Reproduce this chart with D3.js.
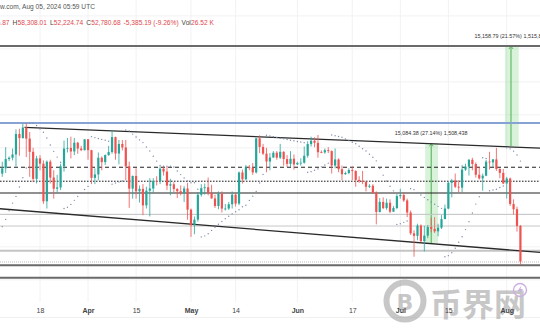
<!DOCTYPE html>
<html><head><meta charset="utf-8">
<script src="https://cdn.jsdelivr.net/npm/d3@7"></script>
<style>html,body{margin:0;padding:0;background:#fff;overflow:hidden}svg{display:block}</style>
</head><body>
<svg id="chart" width="540" height="336"></svg>
<script>
// BTC daily candles, 2024-02-26 .. 2024-08-05 (one entry per day)
const firstDay = "2024-02-26";
const opens = [
  51700, 54500, 57050, 62500,
  61200, 62400, 62000, 63100, 68300, 63800, 66100, 66900, 68300, 68500, 69000, 72100, 71480, 73080, 71400, 69400, 65300, 68400, 67600, 61900, 67900, 65500, 63800, 64000, 67200, 69900, 69990, 69450, 70780, 69900, 69650,
  71300, 69650, 65450, 65970, 68500, 67840, 68900, 69360, 71630, 69140, 70590, 70060, 67190, 63820, 65740, 63420, 63790, 61280, 63510, 63840, 64990, 64940, 66840, 66400, 64280, 64480, 63760, 63420, 63110, 63840,
  60630, 58250, 59120, 62890, 63890, 64030, 63160, 62330, 61190, 63050, 60790, 60800, 61450, 62900, 61550, 66270, 65230, 67050, 66940, 66280, 71450, 70140, 69120, 67930, 68530, 69260, 68510, 69390, 68300, 67570, 68350,
  67490, 67710, 67750, 68800, 70570, 71080, 70760, 69340, 69310, 69650, 69510, 67320, 68240, 66760, 66010, 66190, 66640, 66490, 65140, 64960, 64830, 64100, 64250, 63180, 60280, 61800, 60860, 61680, 60320, 60880,
  62680, 62850, 62030, 60200, 57040, 56660, 58230, 55860, 56700, 58000, 57720, 57350, 57900, 59200, 60800, 64700, 65050, 64100, 63970, 66700, 67150, 68190, 67550, 65920, 65370, 65780, 67910, 67800, 68250, 66800, 66200,
  64600, 65350, 61500, 60700, 58165.87
];
const highs = [
  54900, 57500, 63900, 63700,
  63100, 62400, 63200, 68500, 69000, 67600, 67900, 70100, 68700, 69900, 72800, 72900, 73650, 73750, 72400, 70000, 68800, 68900, 68100, 68100, 68200, 66600, 65900, 67600, 71100, 71500, 71700, 71500, 70900, 70300, 71300,
  71300, 69700, 66900, 69300, 68700, 69000, 70300, 72700, 71700, 71200, 71200, 71200, 67900, 65800, 66900, 64300, 64500, 64100, 65400, 65400, 65700, 67200, 67200, 67100, 65300, 64800, 63900, 64300, 64200, 64700,
  60800, 59600, 63300, 64500, 64600, 65500, 64400, 62900, 63400, 63400, 61500, 61800, 63400, 63100, 66400, 66700, 67400, 67400, 67700, 71500, 71900, 70600, 70000, 69200, 69500, 69500, 70600, 69500, 68900, 69500, 69000,
  67900, 68400, 70200, 71000, 71700, 71600, 71950, 69600, 69900, 70100, 69600, 69900, 68400, 67300, 66400, 66900, 67200, 66600, 65700, 66500, 65000, 64500, 64500, 63400, 62400, 62500, 62300, 62200, 61200, 63000,
  63800, 63300, 62300, 60500, 57500, 58500, 58400, 58200, 58300, 59400, 59500, 58500, 59800, 61400, 64900, 65300, 66100, 65100, 67400, 67600, 68300, 68500, 67800, 67100, 66100, 68200, 69400, 68300, 70000, 66900, 66800,
  65600, 65500, 62200, 61100, 58308.01
];
const lows = [
  50900, 54400, 56700, 60400,
  60800, 61600, 61300, 62300, 59000, 62800, 65600, 66200, 68000, 68100, 67200, 68800, 71400, 68600, 65600, 64800, 64600, 66600, 61500, 60800, 64600, 62300, 63200, 63600, 66400, 69300, 68400, 68900, 69100, 69500, 69600,
  68200, 64500, 64500, 65100, 66600, 67400, 68800, 69100, 68200, 67500, 69600, 65100, 60900, 62300, 62300, 61700, 59800, 60800, 59600, 63200, 64300, 64500, 65800, 63600, 62800, 63300, 62400, 62800, 61800, 59100,
  56500, 56900, 58800, 62600, 62900, 62800, 62300, 60900, 60700, 60200, 60500, 60600, 60800, 61100, 61300, 64600, 65100, 66600, 65900, 66100, 69200, 68900, 66300, 66600, 68500, 68200, 68300, 67300, 67100, 67100, 66700,
  67400, 67300, 67600, 68500, 70200, 70100, 68500, 69200, 69100, 69200, 66100, 66900, 66300, 65100, 65900, 66000, 65100, 64100, 64700, 64500, 63400, 63900, 63100, 58400, 60200, 60700, 60600, 60100, 60300, 60700,
  62300, 61800, 59500, 56800, 53500, 56000, 55700, 54300, 56300, 57200, 57100, 56600, 57700, 59200, 60700, 62500, 63900, 63300, 63300, 66500, 65800, 66600, 65500, 65200, 63500, 65700, 66700, 67100, 66500, 65400, 64500,
  62300, 61200, 59900, 57300, 52224.74
];
const closes = [
  54500, 57050, 62500, 61200,
  62400, 62000, 63100, 68300, 63800, 66100, 66900, 68300, 68500, 69000, 72100, 71480, 73080, 71400, 69400, 65300, 68400, 67600, 61900, 67900, 65500, 63800, 64000, 67200, 69900, 69990, 69450, 70780, 69900, 69650, 71300,
  69650, 65450, 65970, 68500, 67840, 68900, 69360, 71630, 69140, 70590, 70060, 67190, 63820, 65740, 63420, 63790, 61280, 63510, 63840, 64990, 64940, 66840, 66400, 64280, 64480, 63760, 63420, 63110, 63840, 60630,
  58250, 59120, 62890, 63890, 64030, 63160, 62330, 61190, 63050, 60790, 60800, 61450, 62900, 61550, 66270, 65230, 67050, 66940, 66280, 71450, 70140, 69120, 67930, 68530, 69260, 68510, 69390, 68300, 67570, 68350, 67490,
  67710, 67750, 68800, 70570, 71080, 70760, 69340, 69310, 69650, 69510, 67320, 68240, 66760, 66010, 66190, 66640, 66490, 65140, 64960, 64830, 64100, 64250, 63180, 60280, 61800, 60860, 61680, 60320, 60880, 62680,
  62850, 62030, 60200, 57040, 56660, 58230, 55860, 56700, 58000, 57720, 57350, 57900, 59200, 60800, 64700, 65050, 64100, 63970, 66700, 67150, 68190, 67550, 65920, 65370, 65780, 67910, 67800, 68250, 66800, 66200, 64600,
  65350, 61500, 60700, 58165.87, 52780.68
];
const lastVolume = "26.52 K";

// time axis
const tickDates = ["2024-03-18", "2024-04-01", "2024-04-15", "2024-05-01", "2024-05-14", "2024-06-01", "2024-06-17", "2024-07-01", "2024-07-15", "2024-08-01"];
const tickLabels = ["18", "Apr", "15", "May", "14", "Jun", "17", "Jul", "15", "Aug"];
const monthTicks = ["Apr", "May", "Jun", "Jul", "Aug"];

// price grid
const gridPrices = [50000, 55000, 60000, 65000, 70000, 75000, 80000, 85000, 90000];

// drawn horizontal levels
const levelPrices = [85436, 73750, 67060, 64940, 63150, 59900, 58150, 54400, 52700, 52220, 50320];
const levelKinds  = ["heavy", "blue", "dashed", "dotted", "solid", "light", "light", "lightWide", "lightDotted", "heavy", "heavy"];

// channel trend lines: [date, price] anchor pairs
const upperTrend = [["2024-03-13T12:00", 73100], ["2024-08-10T18:00", 69950]];
const lowerTrend = [["2024-03-06T00:00", 60780], ["2024-08-10T18:00", 54150]];

// price-range measurements: start/end dates, base price, range, percent, bars label
const measureStart = ["2024-07-08T06:00", "2024-07-31T12:00"];
const measureEnd   = ["2024-07-12T00:00", "2024-08-04T12:00"];
const measureMid   = ["2024-07-10T00:00", "2024-08-02T06:00"];
const measureBase  = [55580.6, 70277.2];
const measureRange = [15084.38, 15158.79];
const measurePct   = ["27.14%", "21.57%"];
const measureExtra = ["1,508,438", "1,515,879"];

const W = 540, H = 336;
const svg = d3.select("#chart");
const parse = d3.utcParse("%Y-%m-%d");
const parseT = d3.utcParse("%Y-%m-%dT%H:%M");
const start = parse(firstDay);
const font = "Liberation Sans, Arial, sans-serif";

const candles = closes.map((c, i) => ({
  date: d3.utcDay.offset(start, i), o: opens[i], h: highs[i], l: lows[i], c
}));

const x = d3.scaleUtc().domain([parse("2024-03-18"), parse("2024-08-01")]).range([40, 506.7]);
const y = d3.scaleLinear().domain([50000, 85436]).range([279.8, 46]);

svg.append("defs").append("clipPath").attr("id", "plot")
  .append("rect").attr("x", 0).attr("y", 0).attr("width", W).attr("height", 302);

// faint grid
const grid = svg.append("g").attr("clip-path", "url(#plot)");
grid.selectAll("line.h").data(gridPrices).join("line")
  .attr("x1", 0).attr("x2", W).attr("y1", d => y(d)).attr("y2", d => y(d))
  .attr("stroke", "#f1f2f4").attr("stroke-width", 1);
grid.selectAll("line.v").data(tickDates).join("line")
  .attr("x1", d => x(parse(d))).attr("x2", d => x(parse(d))).attr("y1", 0).attr("y2", 302)
  .attr("stroke", "#f1f2f4").attr("stroke-width", 1);

const plot = svg.append("g").attr("clip-path", "url(#plot)");

// measurement bands
measureBase.forEach((b, i) => {
  const x0 = x(parseT(measureStart[i])), x1 = x(parseT(measureEnd[i]));
  const yTop = y(b + measureRange[i]), yBot = y(b);
  plot.append("rect").attr("x", x0).attr("width", x1 - x0)
    .attr("y", yTop).attr("height", yBot - yTop)
    .attr("fill", "rgba(76,200,80,0.22)");
  const xm = x(parseT(measureMid[i]));
  plot.append("line").attr("x1", xm).attr("x2", xm).attr("y1", yBot).attr("y2", yTop + 1)
    .attr("stroke", "#4caf50").attr("stroke-width", 1);
  plot.append("path")
    .attr("d", `M${xm - 2},${yTop + 3}L${xm},${yTop}L${xm + 2},${yTop + 3}`)
    .attr("fill", "none").attr("stroke", "#4caf50").attr("stroke-width", 0.8);
  plot.append("text").attr("x", xm).attr("y", yTop - 8)
    .attr("text-anchor", "middle").attr("font-family", font)
    .attr("font-size", 5.4).attr("fill", "#333")
    .text(`${d3.format(",.2f")(measureRange[i])} (${measurePct[i]}) ${measureExtra[i]}`);
});

// horizontal levels
const levelStyle = {
  heavy:       { stroke: "#6a6a6a", width: 2, dash: null },
  blue:        { stroke: "#87a3d6", width: 2, dash: null },
  dashed:      { stroke: "#222", width: 1.1, dash: "4,3" },
  dotted:      { stroke: "#222", width: 1.1, dash: "1.5,1.5" },
  solid:       { stroke: "#222", width: 1.1, dash: null },
  light:       { stroke: "#c8c8c8", width: 1, dash: null },
  lightWide:   { stroke: "#c4c4c4", width: 2, dash: null },
  lightDotted: { stroke: "#bdbdbd", width: 1, dash: "1,1" }
};
levelPrices.forEach((p, i) => {
  const s = levelStyle[levelKinds[i]];
  plot.append("line").attr("x1", 0).attr("x2", W).attr("y1", y(p)).attr("y2", y(p))
    .attr("stroke", s.stroke).attr("stroke-width", s.width)
    .attr("stroke-dasharray", s.dash);
});

// channel lines
function trendLine(anchors, extendLeft) {
  const [a, b] = anchors.map(([d, p]) => [x(parseT(d)), y(p)]);
  const slope = (b[1] - a[1]) / (b[0] - a[0]);
  const xs = extendLeft ? -5 : a[0];
  const xe = W + 5;
  plot.append("line")
    .attr("x1", xs).attr("y1", a[1] + slope * (xs - a[0]))
    .attr("x2", xe).attr("y2", a[1] + slope * (xe - a[0]))
    .attr("stroke", "#2a2a2a").attr("stroke-width", 1.3);
}
trendLine(upperTrend, false);
trendLine(lowerTrend, true);

// Parabolic SAR (step 0.02, max 0.2) derived from the candles
function parabolicSar(hs, ls, step = 0.02, max = 0.2) {
  const out = [null];
  let up = true, af = step, ep = hs[0], sar = ls[0];
  for (let i = 1; i < hs.length; i++) {
    sar = sar + af * (ep - sar);
    if (up) {
      sar = Math.min(sar, ls[i - 1], ls[Math.max(0, i - 2)]);
      if (ls[i] < sar) { up = false; sar = ep; ep = ls[i]; af = step; }
      else if (hs[i] > ep) { ep = hs[i]; af = Math.min(af + step, max); }
    } else {
      sar = Math.max(sar, hs[i - 1], hs[Math.max(0, i - 2)]);
      if (hs[i] > sar) { up = true; sar = ep; ep = hs[i]; af = step; }
      else if (ls[i] < ep) { ep = ls[i]; af = Math.min(af + step, max); }
    }
    out.push(sar);
  }
  return out;
}
const sar = parabolicSar(highs, lows);
plot.selectAll("circle.sar").data(candles.map((d, i) => ({ date: d.date, v: sar[i] })).filter(d => d.v != null))
  .join("circle").attr("class", "sar")
  .attr("cx", d => x(d.date)).attr("cy", d => y(d.v)).attr("r", 0.7)
  .attr("fill", "#7f8cab");

// candles
const up = "#26a69a", down = "#ef5350";
const bw = 2.2;
const cg = plot.selectAll("g.candle").data(candles).join("g").attr("class", "candle");
cg.append("line")
  .attr("x1", d => x(d.date)).attr("x2", d => x(d.date))
  .attr("y1", d => y(d.h)).attr("y2", d => y(d.l))
  .attr("stroke", d => d.c >= d.o ? up : down).attr("stroke-width", 0.8);
cg.append("rect")
  .attr("x", d => x(d.date) - bw / 2).attr("width", bw)
  .attr("y", d => y(Math.max(d.o, d.c)))
  .attr("height", d => Math.max(0.8, Math.abs(y(d.o) - y(d.c))))
  .attr("fill", d => d.c >= d.o ? up : down);

svg.append("line").attr("x1", 0).attr("x2", W).attr("y1", 317.5).attr("y2", 317.5)
  .attr("stroke", "#f0f0f0");

// watermark (under the time-axis labels)
const wm = svg.append("g").attr("opacity", 0.55);
wm.append("circle").attr("cx", 405).attr("cy", 301).attr("r", 18.5)
  .attr("fill", "none").attr("stroke", "#9a9a9a").attr("stroke-width", 6);
wm.append("text").attr("x", 405).attr("y", 309.5).attr("text-anchor", "middle")
  .attr("font-family", "DejaVu Sans, sans-serif").attr("font-weight", "bold")
  .attr("font-size", 22).attr("fill", "#9a9a9a").text("B");
wm.append("text").attr("x", 430).attr("y", 316).attr("font-family", "Noto Sans CJK SC")
  .attr("font-weight", "bold").attr("font-size", 32).attr("fill", "#9a9a9a").text("币界网");
wm.append("circle").attr("cx", 520).attr("cy", 290).attr("r", 6.5)
  .attr("fill", "none").attr("stroke", "#a070c8").attr("stroke-width", 1.4);
wm.append("path").attr("d", "M521.5,285.5L517.5,291L520,291L518.5,295L523,289L520.5,289Z")
  .attr("fill", "#a070c8");

// time axis
const axis = d3.axisBottom(x)
  .tickValues(tickDates.map(parse))
  .tickFormat((d, i) => tickLabels[i])
  .tickSize(0).tickPadding(0);
const ax = svg.append("g").attr("transform", "translate(0,308)").call(axis);
ax.select(".domain").remove();
ax.selectAll("text")
  .attr("font-family", font)
  .attr("font-size", 7).attr("fill", "#444")
  .attr("font-weight", (d, i) => monthTicks.includes(tickLabels[i]) ? "bold" : "normal");

// header
function measure(str, size) {
  const t = svg.append("text").attr("font-family", font).attr("font-size", size).text(str);
  const w = t.node().getComputedTextLength(); t.remove(); return w;
}
const hs = 6.6;
svg.append("text").attr("x", -measure("TradingVie", hs)).attr("y", 8.5)
  .attr("font-family", font).attr("font-size", hs).attr("fill", "#555")
  .text("TradingView.com, Aug 05, 2024 05:59 UTC");

const last = candles[candles.length - 1];
const chg = last.c - last.o;
const f2 = d3.format(",.2f");
const parts = [
  ["O", f2(last.o)], ["H", f2(last.h)], ["L", f2(last.l)], ["C", f2(last.c)],
  ["", `${f2(chg).replace("−", "-")} (${d3.format(".2f")(chg / last.o * 100).replace("−", "-")}%)`],
  ["Vol", lastVolume]
];
const line2 = svg.append("text").attr("x", -measure("O58,166", hs)).attr("y", 24.5)
  .attr("font-family", font).attr("font-size", hs);
parts.forEach(([k, v], i) => {
  if (k) line2.append("tspan").attr("fill", "#444").attr("dx", i ? 3 : 0).text(k);
  line2.append("tspan").attr("fill", "#e0474c").attr("dx", k ? 0.3 : 3).text(v);
});
</script>
</body></html>
